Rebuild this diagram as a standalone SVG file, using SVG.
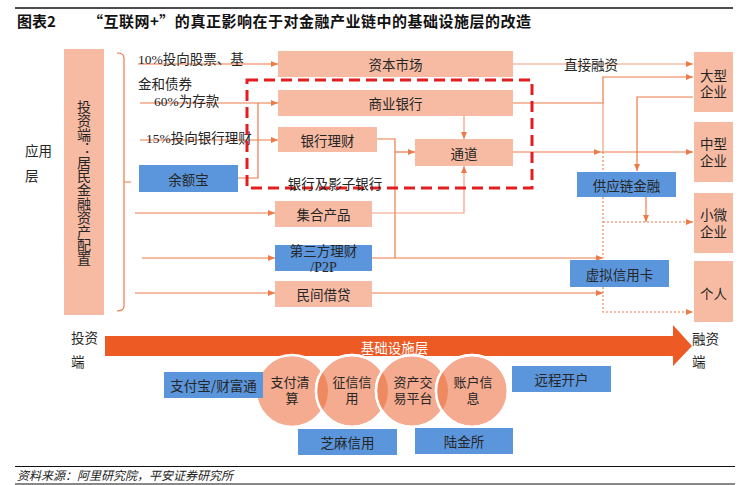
<svg xmlns="http://www.w3.org/2000/svg" width="745" height="485" viewBox="0 0 745 485">
<style>
.bx{fill:#f7bba3}
.bl{fill:#5b96dc}
.t{font-family:"Noto Sans CJK SC","Liberation Sans",sans-serif;font-size:13.5px;fill:#262626;text-anchor:middle;dominant-baseline:central}
.tr{font-family:"Liberation Sans","Noto Sans CJK SC",sans-serif;font-size:13.5px;fill:#262626;text-anchor:middle;dominant-baseline:central}
.tc{font-family:"Liberation Sans","Noto Sans CJK SC",sans-serif;font-size:13px;fill:#262626;text-anchor:middle;dominant-baseline:central}
.tl{font-family:"Liberation Serif","Noto Sans CJK SC",serif;font-size:13.5px;fill:#262626;text-anchor:start;dominant-baseline:central}
.ln{fill:none;stroke:#ed7b49;stroke-width:1.2}
.lt{fill:none;stroke:#f2a07f;stroke-width:1.2}
.dt{fill:none;stroke:#ed7b49;stroke-width:1.1;stroke-dasharray:2 2}
.cf{fill:#f5ab8f}
.cs{fill:none;stroke:#fff;stroke-width:2.5}
.lens{fill:#ef8a60}
</style>
<defs>
<marker id="ah" markerUnits="userSpaceOnUse" markerWidth="7" markerHeight="6" refX="7" refY="3" orient="auto">
<path d="M0,0 L7,3 L0,6 z" fill="#ed7b49"/>
</marker>
<clipPath id="c1"><circle cx="292" cy="391" r="36"/></clipPath>
<clipPath id="c2"><circle cx="352" cy="391" r="36"/></clipPath>
<clipPath id="c3"><circle cx="412" cy="391" r="36"/></clipPath>
</defs>
<rect width="745" height="485" fill="#fff"/>

<g id="header">
<line x1="15" y1="8" x2="733" y2="8" stroke="#111" stroke-width="1.5"/>
<text x="17" y="27" font-family="'Noto Sans CJK SC','Liberation Sans',sans-serif" font-size="15" font-weight="bold" fill="#111">图表2</text>
<text x="88" y="27" font-family="'Noto Sans CJK SC','Liberation Sans',sans-serif" font-size="15" font-weight="bold" fill="#111" textLength="443" lengthAdjust="spacing">“互联网+”的真正影响在于对金融产业链中的基础设施层的改造</text>
</g>

<g id="layer-labels">
<text class="tl" x="25" y="150" style="font-family:'Noto Sans CJK SC',sans-serif">应用<tspan x="25" dy="25">层</tspan></text>
<text class="tl" x="71" y="337" style="font-family:'Noto Sans CJK SC',sans-serif">投资<tspan x="71" dy="24">端</tspan></text>
<text class="tl" x="692" y="338" style="font-family:'Noto Sans CJK SC',sans-serif">融资<tspan x="692" dy="23">端</tspan></text>
</g>

<g id="investor">
<rect class="bx" x="64" y="49" width="40" height="266"/>
<text x="84" y="100" font-family="'Noto Sans CJK SC',sans-serif" font-size="14" fill="#262626" style="writing-mode:vertical-rl" letter-spacing="-0.2">投资端：居民金融资产配置</text>
</g>

<g id="connectors">
<path class="ln" d="M117,53 Q124,53 124,58 V306 Q124,311 117,311 M124,182 H131"/>
<path class="ln" d="M138,64 H278" marker-end="url(#ah)"/>
<path class="ln" d="M140,103 H278" marker-end="url(#ah)"/>
<path class="ln" d="M140,140 H278" marker-end="url(#ah)"/>
<path class="ln" d="M238,178 H258 V103"/>
<path class="ln" d="M135,213 H275" marker-end="url(#ah)"/>
<path class="ln" d="M142,258 H275" marker-end="url(#ah)"/>
<path class="ln" d="M135,293 H275" marker-end="url(#ah)"/>
<path class="lt" d="M464,116 V139" marker-end="url(#ah)"/>
<path class="ln" d="M377,139 H395 V258"/>
<path class="ln" d="M395,152 H415" marker-end="url(#ah)"/>
<path class="ln" d="M372,258 H603" marker-end="url(#ah)"/>
<path class="lt" d="M372,213 H464 V166" marker-end="url(#ah)"/>
<path class="ln" d="M513,152 H601" marker-end="url(#ah)"/>
<path class="ln" d="M601,152 H693" marker-end="url(#ah)"/>
<path class="lt" d="M513,64 H693" marker-end="url(#ah)"/>
<path class="ln" d="M513,103 H603 V77 H693" marker-end="url(#ah)"/>
<path class="lt" d="M603,103 V152"/>
<path class="dt" d="M603,152 V172"/>
<path class="ln" d="M693,97 H637 V171" marker-end="url(#ah)"/>
<path class="ln" d="M646,197 V222" marker-end="url(#ah)"/>
<path class="dt" d="M603,197 V258"/>
<path class="dt" d="M603,222 H693" marker-end="url(#ah)"/>
<path class="ln" d="M372,293 H603" marker-end="url(#ah)"/>
<path class="dt" d="M603,287 V312 H693" marker-end="url(#ah)"/>
</g>

<g id="flow-labels">
<text class="tl" x="138" y="59">10%投向股票、基<tspan x="138" dy="25">金和债券</tspan></text>
<text class="tl" x="154" y="101">60%为存款</text>
<text class="tl" x="146" y="138">15%投向银行理财</text>
<text class="t" x="591" y="64" style="font-family:'Noto Sans CJK SC',sans-serif">直接融资</text>
</g>

<g id="yuebao"><rect class="bl" x="139" y="165" width="99" height="27"/><text class="t" x="188.5" y="178.5">余额宝</text></g>
<g id="capital-market"><rect class="bx" x="278" y="51" width="235" height="26"/><text class="t" x="395.5" y="64">资本市场</text></g>
<g id="commercial-bank"><rect class="bx" x="278" y="90" width="235" height="26"/><text class="t" x="395.5" y="103">商业银行</text></g>
<g id="bank-wealth"><rect class="bx" x="278" y="127" width="99" height="25"/><text class="t" x="327.5" y="139.5">银行理财</text></g>
<g id="channel"><rect class="bx" x="415" y="139" width="98" height="27"/><text class="t" x="464" y="152.5">通道</text></g>
<g id="collective"><rect class="bx" x="275" y="201" width="97" height="26"/><text class="t" x="323.5" y="214">集合产品</text></g>
<g id="p2p"><rect class="bl" x="275" y="245" width="97" height="26"/><text class="t" x="323.5" y="251.5" style="font-family:'Liberation Serif','Noto Sans CJK SC',serif">第三方理财<tspan x="323.5" dy="15.5" style="font-size:14px">/P2P</tspan></text></g>
<g id="private-lending"><rect class="bx" x="275" y="281" width="97" height="26"/><text class="t" x="323.5" y="294">民间借贷</text></g>

<g id="shadow-bank">
<rect x="247" y="80" width="285" height="108" fill="none" stroke="#e31e20" stroke-width="3" stroke-dasharray="11 6"/>
<text class="t" x="335" y="183">银行及影子银行</text>
</g>

<g id="supply-chain"><rect class="bl" x="577" y="172" width="99" height="25"/><text class="t" x="626.5" y="184.5">供应链金融</text></g>
<g id="virtual-card"><rect class="bl" x="570" y="260" width="99" height="27"/><text class="t" x="619.5" y="273.5">虚拟信用卡</text></g>

<g id="large"><rect class="bx" x="694" y="52" width="39" height="60"/><text class="tr" x="713.5" y="76">大型<tspan x="713.5" dy="16">企业</tspan></text></g>
<g id="medium"><rect class="bx" x="694" y="122" width="39" height="60"/><text class="tr" x="713.5" y="144">中型<tspan x="713.5" dy="17">企业</tspan></text></g>
<g id="small"><rect class="bx" x="694" y="193" width="39" height="60"/><text class="tr" x="713.5" y="215">小微<tspan x="713.5" dy="17">企业</tspan></text></g>
<g id="individual"><rect class="bx" x="694" y="261" width="39" height="61"/><text class="t" x="713.5" y="293">个人</text></g>

<g id="infra-arrow">
<polygon points="105,336 673,336 673,325 692,346 673,366 673,356 105,356" fill="#ee5a24"/>
<text class="t" x="394.5" y="346.5" style="fill:#fff">基础设施层</text>
</g>

<g id="circles">
<circle class="cf" cx="292" cy="391" r="36"/><circle class="cs" cx="292" cy="391" r="36"/>
<circle class="cf" cx="352" cy="391" r="36"/><circle class="cs" cx="352" cy="391" r="36"/>
<circle class="lens" cx="352" cy="391" r="36" clip-path="url(#c1)"/>
<circle class="cs" cx="352" cy="391" r="36"/>
<circle class="cf" cx="412" cy="391" r="36"/><circle class="cs" cx="412" cy="391" r="36"/>
<circle class="lens" cx="412" cy="391" r="36" clip-path="url(#c2)"/>
<circle class="cs" cx="412" cy="391" r="36"/>
<circle class="cf" cx="472" cy="391" r="36"/><circle class="cs" cx="472" cy="391" r="36"/>
<circle class="lens" cx="472" cy="391" r="36" clip-path="url(#c3)"/>
<circle class="cs" cx="472" cy="391" r="36"/>
</g>
<g id="payment"><text class="tc" x="290" y="382.5">支付清<tspan x="292" dy="15">算</tspan></text></g>
<g id="credit"><text class="tc" x="352" y="382.5">征信信<tspan x="352" dy="15">用</tspan></text></g>
<g id="asset-trading"><text class="tc" x="413" y="382.5">资产交<tspan x="413" dy="15">易平台</tspan></text></g>
<g id="account-info"><text class="tc" x="473" y="382.5">账户信<tspan x="473" dy="15">息</tspan></text></g>

<g id="alipay"><rect class="bl" x="164" y="372" width="99" height="26"/><text class="t" x="213.5" y="385">支付宝/财富通</text></g>
<g id="remote-account"><rect class="bl" x="512" y="366" width="99" height="26"/><text class="t" x="561.5" y="379">远程开户</text></g>
<g id="zhima"><rect class="bl" x="298" y="429" width="99" height="26"/><text class="t" x="347.5" y="442">芝麻信用</text></g>
<g id="lufax"><rect class="bl" x="415" y="428" width="98" height="26"/><text class="t" x="464" y="441">陆金所</text></g>

<g id="footer">
<line x1="15" y1="466.5" x2="735" y2="466.5" stroke="#111" stroke-width="1"/>
<text x="17" y="480" font-family="'Noto Sans CJK SC',sans-serif" font-size="12" font-style="italic" fill="#222">资料来源：阿里研究院，平安证券研究所</text>
<line x1="15" y1="484" x2="735" y2="484" stroke="#111" stroke-width="1"/>
</g>
</svg>
